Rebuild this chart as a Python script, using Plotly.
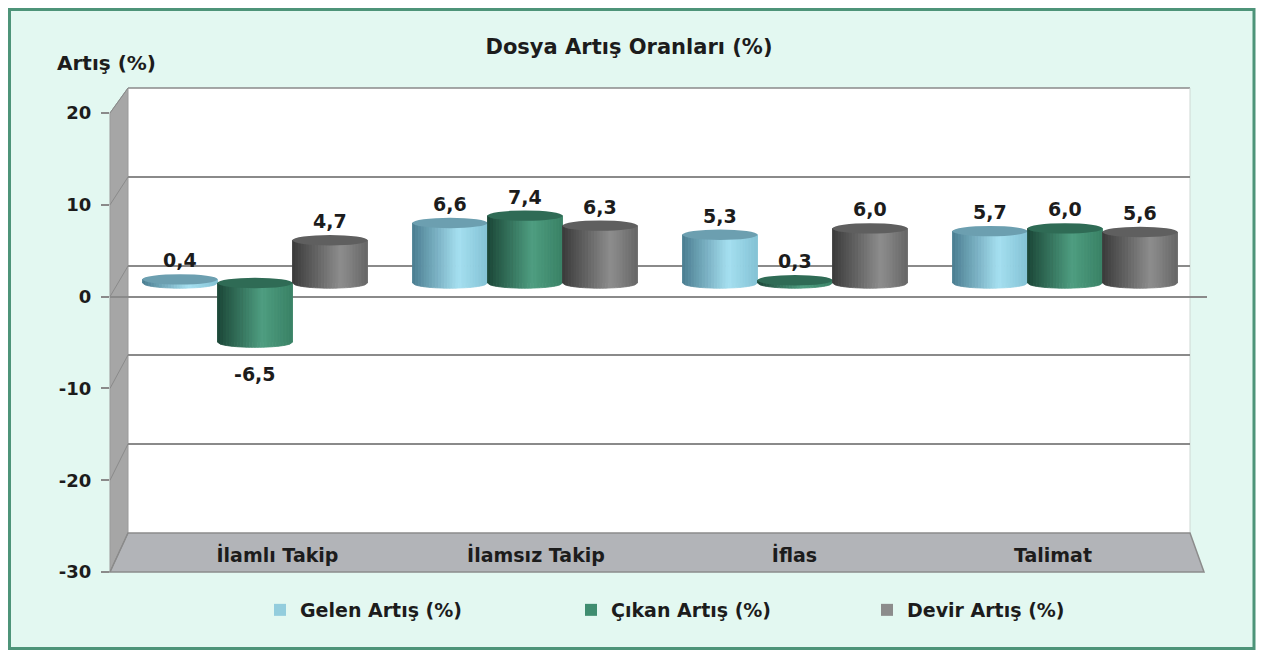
import math
import plotly.graph_objects as go

# ---------------- data ----------------
categories = ["İlamlı Takip", "İlamsız Takip", "İflas", "Talimat"]
series_names = ["Gelen Artış (%)", "Çıkan Artış (%)", "Devir Artış (%)"]
gelen = [0.4, 6.6, 5.3, 5.7]
cikan = [-6.5, 7.4, 0.3, 6.0]
devir = [4.7, 6.3, 6.0, 5.6]
y_ticks = [-30, -20, -10, 0, 10, 20]
y_title = "Artış (%)"
chart_title = "Dosya Artış Oranları (%)"

# ---------------- styling / geometry ----------------
WIN_W, WIN_H, BODY_MARGIN = 1266, 658, 8
W, H = WIN_W - 2 * BODY_MARGIN, WIN_H - 2 * BODY_MARGIN
FONT = "DejaVu Sans"
TXT = "#1c1c1c"
GRID = "#8a8a8a"


def px(x):  # window pixel -> paper fraction
    return (x - BODY_MARGIN) / W


def py(y):
    return 1 - (y - BODY_MARGIN) / H


# front plane (axis labels), back wall, bars plane (window pixel positions)
FX0, FX1, FY0, FY1 = 110, 1207, 113, 572
BX0, BX1, BY0, BY1 = 128, 1190, 88, 533
BAR_ZERO_PX, BAR_PX_PER_UNIT = 283, 9.1
GROUP0_PX, GROUP_STEP_PX = 255, 270
LABEL0_PX, LABEL_STEP_PX = 277.5, 258.5

ymin, ymax = min(y_ticks), max(y_ticks)
y2_range = [-(FY1 - BAR_ZERO_PX) / BAR_PX_PER_UNIT, (BAR_ZERO_PX - FY0) / BAR_PX_PER_UNIT]
x_range = [-(GROUP0_PX - FX0) / GROUP_STEP_PX, (FX1 - GROUP0_PX) / GROUP_STEP_PX]
x2_range = [-(LABEL0_PX - FX0) / LABEL_STEP_PX, (FX1 - LABEL0_PX) / LABEL_STEP_PX]

bar_w = 75 / GROUP_STEP_PX
r = bar_w / 2
h = 5.2 / BAR_PX_PER_UNIT  # ellipse half-height in bar units

series = [gelen, cikan, devir]
legend_colors = ["#93cddd", "#3f8d70", "#8c8c8c"]
side_stops = [
    [(0.0, "#4a7d90"), (0.62, "#a6e0f1"), (1.0, "#84c2d5")],
    [(0.0, "#1b4637"), (0.60, "#4f9e81"), (1.0, "#3a8266")],
    [(0.0, "#3a3a3a"), (0.65, "#8e8e8e"), (1.0, "#676767")],
]
top_colors = ["#6c9fb0", "#2f6b55", "#5f5f5f"]
legend_x_px = [260, 571, 867]

x_dom = [px(FX0), px(FX1)]
y_dom = [py(FY1), py(FY0)]


def hex2rgb(c):
    c = c.lstrip("#")
    return [int(c[i:i + 2], 16) for i in (0, 2, 4)]


def grad(stops, t):
    for (t0, c0), (t1, c1) in zip(stops, stops[1:]):
        if t <= t1:
            f = (t - t0) / (t1 - t0) if t1 > t0 else 0
            a, b = hex2rgb(c0), hex2rgb(c1)
            return "rgb(%d,%d,%d)" % tuple(round(a[i] + (b[i] - a[i]) * f) for i in range(3))
    return stops[-1][1]


fig = go.Figure()
shapes = []

# outer frame
shapes.append(dict(type="rect", xref="paper", yref="paper", layer="below",
                   x0=px(9.5), x1=px(1254), y0=py(648.5), y1=py(9.5),
                   fillcolor="#e3f8f1", line=dict(color="#4d9479", width=3)))
# back wall
shapes.append(dict(type="rect", xref="paper", yref="paper", layer="below",
                   x0=px(BX0), x1=px(BX1), y0=py(BY1), y1=py(BY0),
                   fillcolor="white", line=dict(width=0)))
shapes.append(dict(type="line", xref="paper", yref="paper", layer="below",
                   x0=px(BX0), x1=px(BX1), y0=py(BY0), y1=py(BY0),
                   line=dict(color=GRID, width=1.5)))
shapes.append(dict(type="line", xref="paper", yref="paper", layer="below",
                   x0=px(BX1), x1=px(BX1), y0=py(BY0), y1=py(BY1),
                   line=dict(color="#cfd8d4", width=1)))
# left wall
shapes.append(dict(type="path", xref="paper", yref="paper", layer="below",
                   path=f"M{px(BX0)},{py(BY0)} L{px(FX0)},{py(FY0)} L{px(FX0)},{py(FY1)} L{px(BX0)},{py(BY1)} Z",
                   fillcolor="#a6a6a6", line=dict(color="#9a9a9a", width=1)))
# floor
shapes.append(dict(type="path", xref="paper", yref="paper", layer="below",
                   path=f"M{px(BX0)},{py(BY1)} L{px(BX1)},{py(BY1)} L{px(FX1 - 3)},{py(FY1)} L{px(FX0)},{py(FY1)} Z",
                   fillcolor="#b2b4b8", line=dict(color="#8c8c8c", width=1.5)))
# diagonals on left wall connecting back grid to front ticks
for v in y_ticks:
    yb = BY1 - (v - ymin) * (BY1 - BY0) / (ymax - ymin)
    yf = FY1 - (v - ymin) * (FY1 - FY0) / (ymax - ymin)
    shapes.append(dict(type="line", xref="paper", yref="paper", layer="below",
                       x0=px(BX0), y0=py(yb), x1=px(FX0), y1=py(yf),
                       line=dict(color=GRID, width=1)))

# bars (cylinders)
for k, (name, vals) in enumerate(zip(series_names, series)):
    xs = [i + (k - 1) * bar_w for i in range(len(categories))]
    fig.add_trace(go.Bar(
        x=xs, y=vals, width=bar_w, name=name, xaxis="x", yaxis="y2",
        marker=dict(color=legend_colors[k], line=dict(width=0)),
        legend=["legend", "legend2", "legend3"][k], hoverinfo="skip"))
    N = 26
    for xc, v in zip(xs, vals):
        hi, lo = max(v, 0), min(v, 0)
        for j in range(N):
            ua = -1 + 2 * j / N
            ub = -1 + 2 * (j + 1) / N
            xa, xb = xc + ua * r, xc + ub * r
            ya = lo - h * math.sqrt(max(0.0, 1 - ua * ua))
            yb_ = lo - h * math.sqrt(max(0.0, 1 - ub * ub))
            col = grad(side_stops[k], (j + 0.5) / N)
            shapes.append(dict(type="path", xref="x", yref="y2", layer="above",
                               path=f"M{xa},{hi} L{xb},{hi} L{xb},{yb_} L{xa},{ya} Z",
                               fillcolor=col, line=dict(color=col, width=0.8)))
        shapes.append(dict(type="circle", xref="x", yref="y2", layer="above",
                           x0=xc - r, x1=xc + r, y0=hi - h, y1=hi + h,
                           fillcolor=top_colors[k], line=dict(width=0)))
        fig.add_annotation(x=xc, y=v, xref="x", yref="y2",
                           text=f"{v:.1f}".replace(".", ","), showarrow=False,
                           yanchor="middle", yshift=19 if v >= 0 else -32,
                           font=dict(family=FONT, size=19, color=TXT, weight="bold"))

# helper traces so every axis gets drawn
fig.add_trace(go.Scatter(x=[0], y=[None], xaxis="x", yaxis="y", showlegend=False,
                         hoverinfo="skip", mode="markers"))
fig.add_trace(go.Scatter(x=[0], y=[None], xaxis="x3", yaxis="y3", showlegend=False,
                         hoverinfo="skip", mode="markers"))
fig.add_trace(go.Scatter(x=list(range(len(categories))), y=[None] * len(categories),
                         xaxis="x2", yaxis="y2", showlegend=False, hoverinfo="skip", mode="markers"))

fig.add_annotation(x=px(106), y=py(63), xref="paper", yref="paper", text=y_title,
                   xanchor="center", yanchor="middle",
                   showarrow=False, font=dict(family=FONT, size=20, color=TXT, weight="bold"))

legend_common = dict(orientation="h", yanchor="middle", y=py(610), xanchor="left",
                     bgcolor="rgba(0,0,0,0)",
                     font=dict(family=FONT, size=19, color=TXT, weight="bold"))

fig.update_layout(
    width=W, height=H,
    margin=dict(l=0, r=0, t=0, b=0, pad=0, autoexpand=False),
    paper_bgcolor="white", plot_bgcolor="rgba(0,0,0,0)",
    title=dict(text=chart_title, x=px(629), xanchor="center", y=py(47), yanchor="middle",
               xref="paper", yref="paper", automargin=False,
               font=dict(family=FONT, size=21, color=TXT, weight="bold")),
    barmode="overlay",
    showlegend=True,
    legend=dict(x=px(legend_x_px[0]), **legend_common),
    legend2=dict(x=px(legend_x_px[1]), **legend_common),
    legend3=dict(x=px(legend_x_px[2]), **legend_common),
    xaxis=dict(domain=x_dom, anchor="y", range=x_range, visible=False, automargin=False),
    xaxis2=dict(domain=x_dom, overlaying="x", anchor="free", position=py(542), range=x2_range,
                tickvals=list(range(len(categories))), ticktext=categories, automargin=False,
                ticks="", showline=False, showgrid=False, zeroline=False,
                tickfont=dict(family=FONT, size=19, color=TXT, weight="bold")),
    xaxis3=dict(domain=[px(BX0), px(BX1)], anchor="y3", range=[0, 1], visible=False,
                automargin=False),
    yaxis=dict(domain=y_dom, anchor="x", range=[ymin, ymax], automargin=False,
               tickvals=y_ticks, ticktext=[str(t) for t in y_ticks],
               ticks="outside", ticklen=8, tickwidth=1.5, tickcolor=GRID,
               ticklabelstandoff=6,
               showgrid=False, showline=False,
               zeroline=True, zerolinecolor=GRID, zerolinewidth=2,
               tickfont=dict(family=FONT, size=18, color=TXT, weight="bold")),
    yaxis2=dict(domain=y_dom, overlaying="y", anchor="x", range=y2_range, visible=False,
                automargin=False),
    yaxis3=dict(domain=[py(BY1), py(BY0)], anchor="x3", range=[ymin, ymax],
                tickvals=y_ticks, showticklabels=False, ticks="", automargin=False,
                showgrid=True, gridcolor=GRID, gridwidth=1.5,
                zeroline=False, showline=False),
    shapes=shapes,
)

fig.write_html("out.html")
